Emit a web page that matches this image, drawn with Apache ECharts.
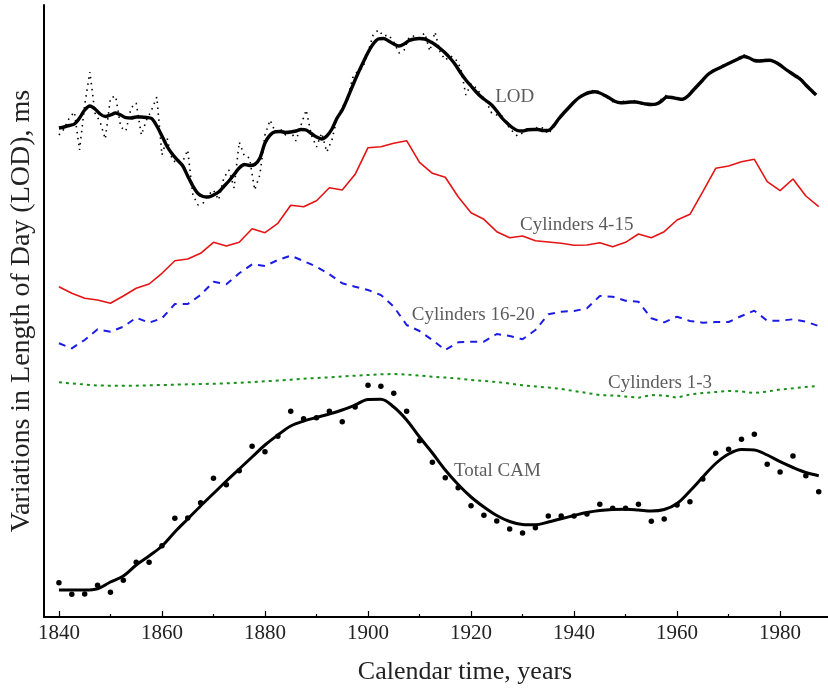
<!DOCTYPE html>
<html>
<head>
<meta charset="utf-8">
<script src="https://cdn.jsdelivr.net/npm/echarts@6/dist/echarts.min.js"></script>
<style>
html,body{margin:0;padding:0;background:#fff;}
#chart{width:828px;height:689px;}
</style>
</head>
<body>
<div id="chart"></div>
<script>
// ---- Data (y values are arbitrary offsets, stacked curves as in the original) ----
const lodYears = [1840,1841,1842,1843,1844,1845,1846,1847,1848,1849,
1850,1851,1852,1853,1854,1855,1856,1857,1858,1859,
1860,1861,1862,1863,1864,1865,1866,1867,1868,1869,
1870,1871,1872,1873,1874,1875,1876,1877,1878,1879,
1880,1881,1882,1883,1884,1885,1886,1887,1888,1889,
1890,1891,1892,1893,1894,1895,1896,1897,1898,1899,
1900,1901,1902,1903,1904,1905,1906,1907,1908,1909,
1910,1911,1912,1913,1914,1915,1916,1917,1918,1919,
1920,1921,1922,1923,1924,1925,1926,1927,1928,1929,
1930,1931,1932,1933,1934,1935,1936,1937,1938,1939,
1940,1941,1942,1943,1944,1945,1946,1947,1948,1949,
1950,1951,1952,1953,1954,1955,1956,1957,1958,1959,
1960,1961,1962,1963,1964,1965,1966,1967,1968,1969,
1970,1971,1972,1973,1974,1975,1976,1977,1978,1979,
1980,1981,1982,1983,1984,1985,1986,1987];

const lodRaw = [482,488,499,505,467,512,545,504,495,478,
519,521,490,486,509,514,482,497,507,520,
462,479,457,454,455,467,422,412,414,422,
427,417,439,447,429,475,461,459,427,442,
482,497,485,488,482,486,476,492,507,482,
470,484,465,477,499,510,517,539,546,549,
565,582,587,581,582,575,564,567,580,581,
579,584,566,585,565,557,561,558,549,522,
533,529,522,515,504,502,501,492,486,481,
484,489,487,490,489,483,490,497,505,510,
516,519,523,525,527,525,521,518,513,515,
516,514,517,513,513,512,514,518,522,519,
518,517,521,527,531,538,542,547,548,552,
554,556,559,562,560,556,557,558,556,555,
553,547,545,543,538,531,527,520];

const lodSmooth = [489,490,491.5,493,499,507,511,508,503,500.5,
502,504,502,499.3,499,500,500,499.5,498.5,491,
481,470.5,463,457,451.5,441,431,423.5,420.5,420,
422,425,430.5,436,442.5,449,452.5,451.5,452.5,458.7,
474,482,485.3,485.5,484.5,485,486,487.5,487,483.5,
480,478,481,488,499,507,518.5,531,543,554,
564.5,573,578,578.5,576,573,571,573,576.5,578,
578.5,578,575.5,572.5,568.5,564,558.5,552,544,537,
531,525,520,516,512,506,499,494,489.5,486.5,
486,487.2,487.5,487.5,486.5,486.5,491,498,504,509.5,
515,519.5,522.5,524.5,525.3,524,521.5,518.5,515.5,514.3,
514.5,515,515,514,513,512.5,513,516,520,519.5,
518.5,517.7,520.5,526,531.5,537,542.5,546,548.5,551,
553.5,556,558.5,560.5,559,556.5,556,556.5,556.7,555,
552,548,544.5,541,537.5,532,527,522];

const cylYears = [1840,1842.5,1845,1847.5,1850,1852.5,1855,1857.5,1860,1862.5,
1865,1867.5,1870,1872.5,1875,1877.5,1880,1882.5,1885,1887.5,
1890,1892.5,1895,1897.5,1900,1902.5,1905,1907.5,1910,1912.5,
1915,1917.5,1920,1922.5,1925,1927.5,1930,1932.5,1935,1937.5,
1940,1942.5,1945,1947.5,1950,1952.5,1955,1957.5,1960,1962.5,
1965,1967.5,1970,1972.5,1975,1977.5,1980,1982.5,1985,1987.5];

const cyl4to15 = [330.3,323.7,318.7,317,313.7,321,328.7,333,343.7,356.3,
358,363.7,374.7,371,374.7,388.3,384.3,393.7,411.7,410.3,
416.3,429.3,427,442.7,469.3,470.3,473.7,476.3,454.7,443.7,
439.7,420.3,404.3,397.7,385.3,379.3,381,376.3,375,373.7,
371.7,372,374.3,370.3,374.7,383,379.3,385.3,397,402.7,
425.3,448.7,451,455.3,457.7,435.3,426.3,438,421,410.3];

const cyl16to20 = [273.7,268.7,277,287.7,285.3,290.3,299.3,294.3,298.7,313,
313,322,335.3,332.7,343.7,352.7,351,357,361.3,356,
350.3,342.7,333.7,330.3,327,322,310.3,292,286,277,
267,274.7,275.3,275.3,283,281,277.7,287,302.7,305.3,
306,308.7,321,320.3,316.3,315.3,298.7,294.7,300.3,296,
294.3,295,295,301,306.3,296.3,296.3,297.7,295.3,291];

const cyl1to3 = [234.7,233.5,232.5,231.5,231.3,231.3,231.3,231.7,232,232.3,
232.7,233,233.3,233.7,234.3,234.8,235.7,236.5,237.3,238.2,
239,239.7,240.5,241.3,242,242.7,243,242.5,241.5,240.3,
239.5,238.5,237,236,235,233.5,231.7,230.5,229.5,228,
226,224,222,221.5,220.5,219.3,222,221.5,219.3,222.5,
224,225,226,225.5,224,225.5,227.5,228.7,230,231];

const camPoints = [34.3,22.7,23,31.7,24.7,36.7,54.7,54.7,71.3,98.7,
99,114.3,138.7,132.3,146.3,170.7,165.3,180.7,205.7,198.3,
199.3,205.7,195.3,210,231.7,230.7,223.7,205.7,176.3,154.7,
139.3,129.3,111.3,101.7,96,88,84,89.3,101,101,
101,103,112.7,108.7,108.7,112.7,95.7,98,112,115.3,
138,163.7,167.7,177.7,182.7,152.7,145,161,141.3,125.3];

const camSmooth = [27,27,27,28.3,35,41,52,61,71,85,
98,111,123.5,136,148,160,172,182,191,196,
199.5,203,207,212,217.5,217.7,210,197,180,164,
147,132.5,120,110,101.5,95.5,92.5,92.2,95,98.3,
101.5,104.5,106.5,107.5,107.7,107,106,107.5,113.5,126,
140,153.5,163,167.5,167,162,155.3,149.5,144.5,141.3];

const majorTicks = [1840,1860,1880,1900,1920,1940,1960,1980];
const minorTicks = [1850,1870,1890,1910,1930,1950,1970];

const curveLabels = [
  [1924.7, 520, 'LOD'],
  [1929.5, 392, 'Cylinders 4-15'],
  [1908.5, 302, 'Cylinders 16-20'],
  [1946.6, 234, 'Cylinders 1-3'],
  [1916.7, 146, 'Total CAM']
];

// ---- Chart ----
const zip = (xs, ys) => xs.map((x, i) => [x, ys[i]]);
const serif = 'Liberation Serif, Times New Roman, serif';
const chart = echarts.init(document.getElementById('chart'), null, {renderer: 'canvas'});

chart.setOption({
  animation: false,
  backgroundColor: '#fff',
  grid: {left: 44, right: 0, top: 5, bottom: 72, containLabel: false, outerBoundsMode: 'none'},
  xAxis: [{
    type: 'value', min: 1837.1, max: 1989.3,
    name: 'Calendar time, years', nameLocation: 'middle', nameGap: 42,
    nameTextStyle: {fontFamily: serif, fontSize: 26, color: '#222', padding: [0, 0, 0, 58]},
    axisLine: {show: true, onZero: false, lineStyle: {color: '#000', width: 2}},
    axisTick: {show: true, inside: true, length: 6, customValues: majorTicks, lineStyle: {color: '#000', width: 1.2}},
    axisLabel: {show: true, customValues: majorTicks, formatter: v => String(Math.round(v)),
                fontFamily: serif, fontSize: 21, color: '#222', margin: 6},
    splitLine: {show: false}
  }, {
    type: 'value', min: 1837.1, max: 1989.3, position: 'bottom', offset: 0,
    axisLine: {show: false},
    axisTick: {show: true, inside: true, length: 3, customValues: minorTicks, lineStyle: {color: '#000', width: 1.2}},
    axisLabel: {show: false},
    splitLine: {show: false}
  }],
  yAxis: {
    type: 'value', min: 0, max: 612,
    name: 'Variations in Length of Day (LOD), ms', nameLocation: 'middle', nameGap: 8,
    nameTextStyle: {fontFamily: serif, fontSize: 28, color: '#222'},
    axisLine: {show: true, lineStyle: {color: '#000', width: 2}},
    axisTick: {show: false}, axisLabel: {show: false}, splitLine: {show: false}
  },
  series: [
    {name: 'LOD raw', type: 'line', data: zip(lodYears, lodRaw), symbol: 'none',
     lineStyle: {color: '#000', width: 1.6, type: [1.5, 4.5]}},
    {name: 'LOD', type: 'line', data: zip(lodYears, lodSmooth), symbol: 'none', smooth: 0.3,
     lineStyle: {color: '#000', width: 3.4}},
    {name: 'Cylinders 4-15', type: 'line', data: zip(cylYears, cyl4to15), symbol: 'none',
     lineStyle: {color: '#e41414', width: 1.6}},
    {name: 'Cylinders 16-20', type: 'line', data: zip(cylYears, cyl16to20), symbol: 'none',
     lineStyle: {color: '#1c1ce6', width: 2, type: [7, 6]}},
    {name: 'Cylinders 1-3', type: 'line', data: zip(cylYears, cyl1to3), symbol: 'none',
     lineStyle: {color: '#199019', width: 2, type: [3, 4]}},
    {name: 'Total CAM', type: 'line', data: zip(cylYears, camSmooth), symbol: 'none', smooth: 0.35,
     lineStyle: {color: '#000', width: 3}},
    {name: 'Total CAM points', type: 'scatter', data: zip(cylYears, camPoints), symbol: 'circle', symbolSize: 5.5,
     itemStyle: {color: '#000', opacity: 1}},
    {name: 'labels', type: 'scatter', data: curveLabels, symbolSize: 0, silent: true,
     label: {show: true, position: 'right', distance: 0, formatter: p => p.value[2],
             fontFamily: serif, fontSize: 19, color: '#333'}}
  ]
});
</script>
</body>
</html>
